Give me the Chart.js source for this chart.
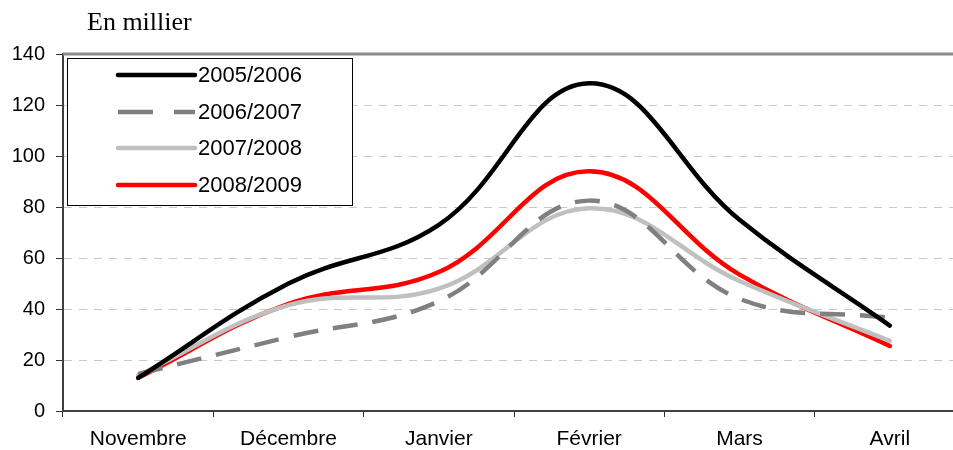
<!DOCTYPE html>
<html>
<head>
<meta charset="utf-8">
<script src="https://cdn.jsdelivr.net/npm/chart.js@4.4.1/dist/chart.umd.min.js"></script>
<style>
  html, body { margin: 0; padding: 0; background: #fff; overflow: hidden; width: 953px; height: 450px; }
  #wrap { position: relative; width: 975px; height: 450px; }
  #title { position: absolute; left: 87px; top: 7px; font-family: "Liberation Serif", "Times New Roman", serif; font-size: 26px; color: #000; white-space: nowrap; }
</style>
</head>
<body>
<div id="wrap">
  <canvas id="c" width="975" height="450"></canvas>
  <div id="title">En millier</div>
</div>
<script>
const categories = ["Novembre", "Décembre", "Janvier", "Février", "Mars", "Avril"];
const seriesNames = ["2005/2006", "2006/2007", "2007/2008", "2008/2009"];
const s2005_2006 = [13, 50, 73, 128.5, 75, 33.5];
const s2006_2007 = [14.5, 29, 43, 82.5, 44, 36.5];
const s2007_2008 = [14, 41.5, 48, 79.5, 51, 27.5];
const s2008_2009 = [13, 42, 54.5, 94, 53.5, 25.5];
const yTicks = [0, 20, 40, 60, 80, 100, 120, 140];

const colors = ["#000000", "#808080", "#c0c0c0", "#ff0000"];
const dashes = [[], [25, 15], [], []];

const legendPlugin = {
  id: "boxLegend",
  afterDraw(chart) {
    const ctx = chart.ctx;
    ctx.save();
    ctx.fillStyle = "#fff";
    ctx.fillRect(67.5, 58.5, 285, 147);
    ctx.strokeStyle = "#000";
    ctx.lineWidth = 1;
    ctx.strokeRect(67.5, 58.5, 285, 147);
    const rows = [75, 112, 148, 185];
    chart.data.datasets.forEach((ds, i) => {
      const y = rows[i];
      ctx.beginPath();
      ctx.strokeStyle = ds.borderColor;
      ctx.lineWidth = 4.5;
      ctx.setLineDash(i === 1 ? [35, 21] : []);
      ctx.lineCap = i === 1 ? "butt" : "round";
      ctx.moveTo(118, y);
      ctx.lineTo(195, y);
      ctx.stroke();
      ctx.setLineDash([]);
      ctx.fillStyle = "#000";
      ctx.font = '22px "Liberation Sans", Arial, sans-serif';
      ctx.textBaseline = "middle";
      ctx.textAlign = "left";
      ctx.fillText(ds.label, 198, y + 1);
    });
    ctx.restore();
  }
};

const topLinePlugin = {
  id: "topLine",
  beforeDatasetsDraw(chart) {
    const y = chart.scales.y.getPixelForValue(yTicks[yTicks.length - 1]);
    const ctx = chart.ctx;
    ctx.save();
    ctx.strokeStyle = "#8c8c8c";
    ctx.lineWidth = 3;
    ctx.beginPath();
    ctx.moveTo(chart.chartArea.left, y);
    ctx.lineTo(chart.width, y);
    ctx.stroke();
    ctx.restore();
  }
};

new Chart(document.getElementById("c"), {
  type: "line",
  data: {
    labels: categories,
    datasets: [s2005_2006, s2006_2007, s2007_2008, s2008_2009].map((d, i) => ({
      label: seriesNames[i],
      data: d,
      borderColor: colors[i],
      backgroundColor: colors[i],
      borderWidth: 4.5,
      borderDash: dashes[i],
      borderCapStyle: i === 1 ? "butt" : "round",
      pointRadius: 0,
      tension: 0.4,
      fill: false
    }))
  },
  options: {
    responsive: false,
    animation: false,
    layout: { padding: { top: 54, right: 10, left: 0, bottom: 0 } },
    plugins: { legend: { display: false }, tooltip: { enabled: false } },
    scales: {
      x: {
        offset: true,
        afterFit(s) { s.height = 39; },
        grid: { offset: true, drawOnChartArea: false, tickLength: 6, color: "#333", lineWidth: 1 },
        border: { color: "#404040", width: 2 },
        ticks: { color: "#000", font: { family: '"Liberation Sans", Arial, sans-serif', size: 21 }, padding: 10, maxRotation: 0 }
      },
      y: {
        min: 0, max: 140,
        afterFit(s) { s.width = 63; },
        afterBuildTicks(s) { s.ticks = yTicks.map(v => ({ value: v })); },
        grid: {
          color: (c) => (c.tick && (c.tick.value === 0 || c.tick.value === 140)) ? "rgba(0,0,0,0)" : "#c8c8c8",
          tickColor: "#333",
          tickLength: 7,
          lineWidth: 1
        },
        border: { color: "#404040", width: 2, dash: [8, 7] },
        ticks: { color: "#000", font: { family: '"Liberation Sans", Arial, sans-serif', size: 20 }, padding: 11 }
      }
    }
  },
  plugins: [topLinePlugin, legendPlugin]
});
</script>
</body>
</html>
